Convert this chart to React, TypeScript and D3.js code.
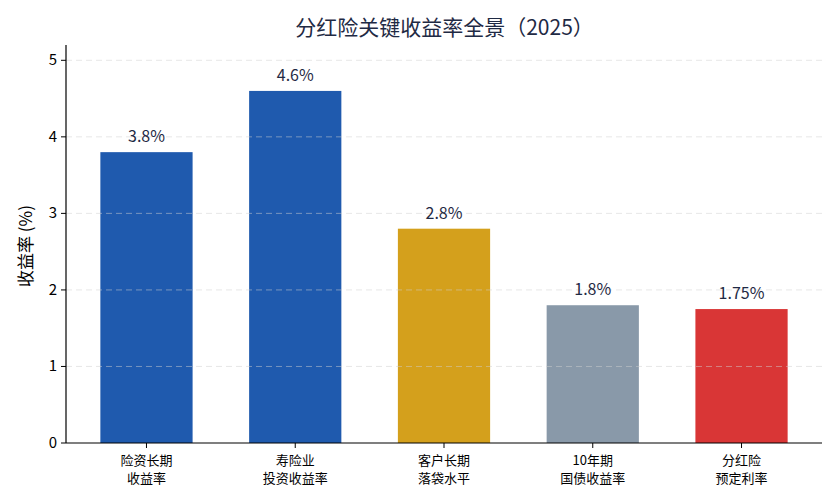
import React from "react";
import * as d3 from "d3";

const categories = ["险资长期\n收益率", "寿险业\n投资收益率", "客户长期\n落袋水平", "10年期\n国债收益率", "分红险\n预定利率"];
const values = [3.8, 4.6, 2.8, 1.8, 1.75];
const valueLabels = ["3.8%", "4.6%", "2.8%", "1.8%", "1.75%"];
const colors = ["#1f5aae", "#1f5aae", "#d4a01c", "#8999a9", "#d93636"];
const yTicks = [0, 1, 2, 3, 4, 5];

const W = 840, H = 504;
const left = 66, right = 822, top = 45, bottom = 443;
const font = "'Noto Sans CJK SC', 'Noto Sans', sans-serif";
const textColor = "#1f2a44";

export default function App() {
  const x = d3.scaleLinear().domain([-0.541, 4.541]).range([left, right]);
  const y = d3.scaleLinear().domain([0, 5.2]).range([bottom, top]);
  const bw = x(0.62) - x(0);
  return (
    <svg width={W} height={H} style={{ position: "absolute", left: 0, top: 0 }} fontFamily={font}>
      <rect width={W} height={H} fill="#fff" />
      <text x={(left + right) / 2 + 0.5} y={35} textAnchor="middle" fontSize={21} fill={textColor}>分红险关键收益率全景（2025）</text>
      {values.map((v, i) => (
        <rect key={i} x={x(i) - bw / 2} y={y(v)} width={bw} height={y(0) - y(v)} fill={colors[i]} />
      ))}
      {yTicks.filter(t => t > 0).map(t => (
        <line key={t} x1={left} x2={right} y1={y(t)} y2={y(t)} stroke="#d0d0d0" strokeOpacity={0.5} strokeDasharray="6 4" strokeWidth={1} />
      ))}
      {values.map((v, i) => (
        <text key={i} x={x(i)} y={y(v) - 10} textAnchor="middle" fontSize={16} fill={textColor}>{valueLabels[i]}</text>
      ))}
      <line x1={left} x2={left} y1={top} y2={bottom} stroke="#000" strokeWidth={1.2} />
      <line x1={left} x2={right} y1={bottom} y2={bottom} stroke="#000" strokeWidth={1.2} />
      {yTicks.map(t => (
        <g key={t}>
          <line x1={left - 5} x2={left} y1={y(t)} y2={y(t)} stroke="#000" />
          <text x={left - 9} y={y(t) + 5} textAnchor="end" fontSize={15} fill="#000">{t}</text>
        </g>
      ))}
      {categories.map((c, i) => (
        <g key={i}>
          <line x1={x(i)} x2={x(i)} y1={bottom} y2={bottom + 5} stroke="#000" />
          {c.split("\n").map((ln, j) => (
            <text key={j} x={x(i)} y={bottom + 22 + j * 18} textAnchor="middle" fontSize={13} fill="#000">{ln}</text>
          ))}
        </g>
      ))}
      <text transform={`translate(32,${(top + bottom) / 2 + 2}) rotate(-90)`} textAnchor="middle" fontSize={17} fill="#000">收益率 (%)</text>
    </svg>
  );
}
